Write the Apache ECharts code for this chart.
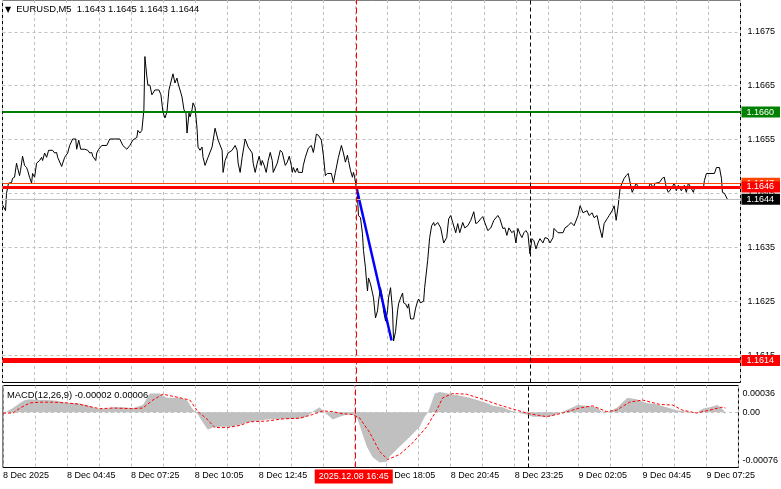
<!DOCTYPE html>
<html><head><meta charset="utf-8">
<script src="https://cdn.jsdelivr.net/npm/echarts/dist/echarts.min.js"></script>
<style>html,body{margin:0;padding:0;background:#fff}#c{width:781px;height:489px}</style>
</head><body><div id="c"></div>
<script>
const symbol = 'EURUSD,M5';
const ohlc = [1.1643, 1.1645, 1.1643, 1.1644];
const macdName = 'MACD(12,26,9)';
const macdNow = [-0.00002, 0.00006];
const priceTicks = [1.1615, 1.1625, 1.1635, 1.1645, 1.1655, 1.1665, 1.1675];
const macdLabelTicks = [-0.00076, 0, 0.00036];
const timeTicks = [0, 32, 64, 96, 128, 160, 192, 224, 256, 288, 320, 352];
const timeLabels = ['8 Dec 2025', '8 Dec 04:45', '8 Dec 07:25', '8 Dec 10:05', '8 Dec 12:45', '8 Dec 15:25',
  '8 Dec 18:05', '8 Dec 20:45', '8 Dec 23:25', '9 Dec 02:05', '9 Dec 04:45', '9 Dec 07:25'];
const eventBar = 176.5;
const eventLabel = '2025.12.08 16:45';
const markerBar = 263;
const greenLevel = 1.16601;
const orangeLevel = 1.16469;
const redLevel = 1.16462;
const closeLevel = 1.16439;
const lowLevel = 1.16140;
const blueTrend = [[176.5, 1.16461], [194, 1.16177]];

// [bar index, price]
const priceLine = [
[0,1.16429],[1.5,1.16418],[2,1.16450],[3,1.16469],[4.5,1.16470],[5,1.16478],[6,1.16480],[7,1.16506],[7.5,1.16498],[8.5,1.16483],[9,1.16493],[10,1.16519],[11,1.16502],[12,1.16498],[12.5,1.16493],[13.5,1.16480],[14.5,1.16469],[15,1.16487],[16,1.16480],[17,1.16506],[18.5,1.16511],[19.5,1.16517],[20,1.16511],[21,1.16525],[22,1.16517],[23,1.16530],[25,1.16530],[26,1.16525],[27,1.16526],[27.5,1.16517],[29.5,1.16500],[31,1.16517],[32.5,1.16525],[33.5,1.16539],[35,1.16551],[36.5,1.16551],[37,1.16532],[38,1.16549],[39,1.16532],[41,1.16532],[42.5,1.16530],[43.5,1.16525],[44.5,1.16526],[45,1.16519],[46.5,1.16511],[47,1.16525],[48,1.16532],[49.5,1.16539],[52,1.16539],[53.5,1.16551],[58.5,1.16551],[60,1.16539],[62,1.16532],[63.5,1.16539],[65,1.16549],[67,1.16554],[67.5,1.16567],[68.5,1.16562],[69.5,1.16567],[70.5,1.16605],[71,1.16704],[72,1.16666],[72.5,1.16651],[73.5,1.16651],[74.5,1.16633],[76,1.16642],[78,1.16642],[79,1.16633],[80,1.16601],[81,1.16590],[82,1.16601],[83,1.16642],[84,1.16657],[85,1.16672],[86,1.16655],[87,1.16664],[87.5,1.16655],[88.5,1.16642],[89,1.16636],[89.5,1.16629],[90.5,1.16605],[91.5,1.16599],[92,1.16562],[93,1.16599],[93.5,1.16592],[94.5,1.16605],[95,1.16618],[96,1.16610],[97,1.16571],[97.5,1.16536],[98.5,1.16530],[99.5,1.16536],[100,1.16517],[101,1.16502],[102.5,1.16517],[104.5,1.16536],[106,1.16571],[107.5,1.16549],[109.5,1.16530],[110,1.16489],[111,1.16511],[112.5,1.16525],[114.5,1.16530],[116,1.16539],[117,1.16530],[117.5,1.16506],[118.5,1.16489],[119.5,1.16517],[121,1.16551],[122.5,1.16536],[124.5,1.16525],[125,1.16506],[126,1.16489],[127,1.16506],[128,1.16519],[129,1.16502],[129.5,1.16511],[130.5,1.16502],[131.5,1.16489],[132.5,1.16511],[133.5,1.16526],[134.5,1.16511],[135,1.16489],[137,1.16506],[138.5,1.16530],[139.5,1.16526],[141,1.16502],[142,1.16508],[143,1.16519],[144,1.16502],[144.5,1.16489],[145,1.16498],[146,1.16489],[147,1.16497],[147.5,1.16489],[149.5,1.16489],[150,1.16502],[151,1.16517],[152.5,1.16534],[154,1.16539],[155,1.16526],[155.5,1.16536],[156.5,1.16560],[157.5,1.16558],[159,1.16549],[160,1.16521],[161,1.16483],[162,1.16487],[162.5,1.16489],[164,1.16487],[165,1.16470],[166,1.16489],[167.5,1.16517],[169,1.16539],[170,1.16525],[171,1.16508],[172,1.16521],[172.5,1.16511],[173.5,1.16493],[174.5,1.16480],[175,1.16489],[175.5,1.16482],[176.5,1.16459],[177,1.16446],[177.5,1.16409],[178.5,1.16405],[179.5,1.16375],[180,1.16344],[181,1.16312],[181.5,1.16288],[182,1.16269],[182.5,1.16293],[183.5,1.16282],[184.5,1.16265],[185,1.16256],[186,1.16219],[187,1.16232],[187.5,1.16250],[188.5,1.16275],[189.5,1.16256],[190,1.16232],[191,1.16213],[192,1.16232],[192.5,1.16256],[193.5,1.16275],[194.5,1.16232],[195,1.16176],[196,1.16194],[197,1.16232],[197.5,1.16245],[198.5,1.16256],[199.5,1.16265],[200,1.16247],[201,1.16245],[202,1.16237],[202.5,1.16245],[203.5,1.16217],[205,1.16217],[206,1.16237],[207,1.16250],[207.5,1.16254],[208.5,1.16247],[210,1.16250],[210.5,1.16275],[212,1.16325],[213,1.16368],[214,1.16390],[215,1.16396],[215.5,1.16390],[217,1.16396],[218.5,1.16386],[220,1.16358],[221.5,1.16368],[222.5,1.16403],[223.5,1.16409],[224.5,1.16396],[226,1.16377],[227,1.16394],[228,1.16377],[229.5,1.16396],[230.5,1.16386],[232,1.16390],[233.5,1.16400],[235,1.16416],[236,1.16394],[237,1.16396],[238.5,1.16403],[239.5,1.16407],[240.5,1.16396],[242,1.16381],[243.5,1.16386],[245,1.16400],[247,1.16409],[248,1.16403],[249.5,1.16385],[250.5,1.16386],[251.5,1.16372],[252.5,1.16386],[254,1.16377],[255,1.16381],[256,1.16358],[257,1.16385],[258,1.16375],[259,1.16368],[260,1.16377],[261,1.16381],[262,1.16375],[263,1.16338],[264,1.16366],[265,1.16362],[266,1.16347],[267,1.16358],[268,1.16366],[269.5,1.16358],[270.5,1.16368],[272,1.16366],[273,1.16358],[274.5,1.16368],[275,1.16385],[277,1.16377],[279.5,1.16377],[280.5,1.16386],[282,1.16390],[283.5,1.16396],[285,1.16390],[287,1.16409],[288,1.16427],[289.5,1.16414],[290,1.16413],[291.5,1.16418],[292.5,1.16409],[294,1.16414],[295,1.16405],[296.5,1.16409],[297.5,1.16390],[299,1.16368],[300,1.16394],[301.5,1.16403],[302.5,1.16409],[304,1.16418],[305,1.16427],[305.5,1.16414],[306,1.16400],[307,1.16427],[308,1.16461],[310,1.16478],[311,1.16483],[312,1.16487],[313,1.16469],[314,1.16452],[315,1.16461],[316,1.16469],[317,1.16461],[317.5,1.16459],[322,1.16459],[323,1.16469],[324.5,1.16461],[325.5,1.16469],[327.5,1.16470],[329,1.16478],[330,1.16480],[331,1.16461],[332,1.16452],[333.5,1.16459],[335,1.16469],[336,1.16455],[337,1.16465],[338.5,1.16455],[340,1.16465],[341,1.16452],[342,1.16469],[343.5,1.16459],[344.5,1.16452],[345,1.16459],[349.5,1.16459],[350,1.16474],[351,1.16487],[355,1.16487],[356,1.16498],[357.5,1.16498],[358.5,1.16478],[359,1.16452],[360,1.16450],[361.5,1.16439]
];

// [bar index, MACD main (histogram)]
const macdHist = [
[0,0],[2,0.00001],[5,0.00006],[8.5,0.00013],[11,0.00017],[13.5,0.00018],[17,0.00017],[22,0.00017],[27,0.00016],[32,0.00013],[37,0.00013],[42,0.00010],[47,0.00005],[52,0.00005],[55,0.00007],[60,0.00007],[65,0.00006],[70,0.00010],[73.5,0.00026],[78.5,0.00026],[82,0.00020],[88.5,0.00020],[92,0.00017],[94.5,0.00006],[96,0.00001],[97.5,-0.00003],[100,-0.00014],[102.5,-0.00024],[105,-0.00021],[108.5,-0.00020],[113.5,-0.00020],[118.5,-0.00017],[122,-0.00014],[127,-0.00012],[132,-0.00010],[140,-0.00009],[145,-0.00009],[150,-0.00008],[153.5,-0.00003],[156,0.00003],[158.5,0.00007],[160,0.00002],[163.5,-0.00006],[165,-0.00010],[168.5,-0.00006],[172,-0.00003],[175,-0.00003],[177.5,-0.00010],[180,-0.00031],[182,-0.00047],[185,-0.00062],[188.5,-0.00069],[192,-0.00068],[193.5,-0.00061],[198.5,-0.00047],[203.5,-0.00034],[208.5,-0.00020],[211,-0.00006],[212.5,-0.00001],[214.5,0.00014],[216,0.00026],[218.5,0.00028],[222.5,0.00026],[227,0.00024],[233.5,0.00020],[238.5,0.00016],[242,0.00013],[245,0.00009],[250,0.00007],[253.5,0.00003],[258.5,-0.00001],[262,-0.00003],[265,-0.00006],[270,-0.00006],[275,-0.00005],[278.5,-0.00001],[283.5,0.00005],[287.5,0.00010],[292,0.00009],[297,0.00007],[299.5,0.00001],[303.5,0.00001],[307.5,0.00007],[310,0.00014],[312.5,0.00020],[317,0.00018],[322,0.00013],[327,0.00011],[332,0.00007],[337,0.00003],[342,0.00001],[347,-0.00001],[350,0.00005],[353.5,0.00007],[357.5,0.00010],[359.5,0.00006],[361,0.00001],[361.5,-0.00002]
];

// [bar index, MACD signal]
const macdSignal = [
[0,-0.00001],[5,-0.00001],[8.5,0.00006],[13.5,0.00013],[18.5,0.00014],[25,0.00014],[32,0.00013],[38.5,0.00011],[45,0.00007],[48.5,0.00005],[55,0.00006],[65,0.00005],[70,0.00006],[75,0.00017],[80,0.00025],[87,0.00021],[93.5,0.00017],[97.5,0.00001],[102,-0.00009],[106,-0.00021],[112,-0.00021],[118.5,-0.00018],[123.5,-0.00013],[132,-0.00012],[140,-0.00009],[148.5,-0.00008],[155,-0.00003],[160,0.00002],[165,0.00001],[170,-0.00002],[175,-0.00003],[178.5,-0.00008],[183.5,-0.00028],[188.5,-0.00054],[192.5,-0.00065],[198.5,-0.00058],[205,-0.00042],[212,-0.00020],[217,0.00003],[220,0.00020],[225,0.00026],[232,0.00025],[240,0.00018],[248.5,0.00010],[257,0.00003],[263.5,-0.00002],[272,-0.00006],[280,-0.00001],[288.5,0.00006],[295,0.00009],[302,0.00001],[307,0.00003],[313.5,0.00014],[320,0.00017],[328.5,0.00011],[335,0.00010],[340,0.00003],[347,-0.00001],[353.5,0.00003],[359.5,0.00007],[361.5,0.00006]
];

const FONT = 'Liberation Sans, Arial, sans-serif';
const FS = 9;
const gridLine = { show: true, lineStyle: { color: '#c0c0c0', width: 1, type: [3, 3] } };
const tag = (bg) => ({ show: true, position: 'end', distance: 1, backgroundColor: bg, color: '#fff',
  fontSize: FS, fontFamily: FONT, padding: [1, 6, 1, 5], lineHeight: 9,
  formatter: (p) => Number(p.value).toFixed(4) });

const chart = echarts.init(document.getElementById('c'), null, { renderer: 'canvas' });
chart.setOption({
  animation: false,
  backgroundColor: '#fff',
  title: [
    { left: 5, top: 5, padding: 0,
      text: '{tri|\u25BC}  ' + symbol + '  ' + ohlc.map(v => v.toFixed(4)).join(' '),
      textStyle: { fontSize: 9.4, fontFamily: FONT, color: '#000', fontWeight: 'normal',
        rich: { tri: { fontSize: 8, fontFamily: 'DejaVu Sans', color: '#000' } } } },
    { left: 7, top: 391, padding: 0,
      text: macdName + ' ' + macdNow.map(v => v.toFixed(5)).join(' '),
      textStyle: { fontSize: 9.4, fontFamily: FONT, color: '#000', fontWeight: 'normal' } }
  ],
  grid: [
    { left: 2.5, right: 40.5, top: -1.5, height: 384, show: true, borderColor: '#000', borderWidth: 1, backgroundColor: 'transparent' },
    { left: 2.5, right: 40.5, top: 385.5, height: 82, show: true, borderColor: '#000', borderWidth: 1, backgroundColor: 'transparent' }
  ],
  xAxis: [
    { gridIndex: 0, type: 'value', min: 0, max: 368, interval: 16,
      axisLine: { show: false }, axisTick: { show: false }, axisLabel: { show: false }, splitLine: gridLine },
    { gridIndex: 1, type: 'value', min: 0, max: 368, interval: 16,
      axisLine: { show: false }, axisTick: { show: false }, splitLine: gridLine,
      axisLabel: { show: true, customValues: timeTicks, align: 'left', margin: 4, color: '#000', fontSize: FS, fontFamily: FONT,
        formatter: (v) => { const k = timeTicks.indexOf(v); return k >= 0 ? timeLabels[k] : ''; } } }
  ],
  yAxis: [
    { gridIndex: 0, type: 'value', position: 'right', min: 1.16099, max: 1.16809,
      axisLine: { show: false }, axisTick: { show: false, customValues: priceTicks },
      axisLabel: { customValues: priceTicks, margin: 7, color: '#000', fontSize: FS, fontFamily: FONT, formatter: (v) => v.toFixed(4) },
      splitLine: gridLine },
    { gridIndex: 1, type: 'value', position: 'right', min: -0.00076, max: 0.00037,
      axisLine: { show: false }, axisTick: { show: false, customValues: [0] },
      axisLabel: { customValues: macdLabelTicks, margin: 4, color: '#000', fontSize: FS, fontFamily: FONT,
        formatter: (v) => {
          if (Math.abs(v) < 1e-12) return '0.00';
          const s = v.toFixed(5);
          return v > 0 ? '{t|' + s + '}' : '{b|' + s + '}';
        },
        rich: {
          t: { padding: [14, 0, 0, 0], fontSize: FS, fontFamily: FONT, color: '#000' },
          b: { padding: [0, 0, 14, 0], fontSize: FS, fontFamily: FONT, color: '#000' }
        } },
      splitLine: { show: true, lineStyle: { color: '#c0c0c0', width: 1, type: [3, 3] } } }
  ],
  series: [
    { type: 'line', xAxisIndex: 0, yAxisIndex: 0, data: [], showSymbol: false, z: 1,
      markLine: { silent: true, symbol: ['none', 'none'], animation: false, precision: 6,
        data: [
          { yAxis: greenLevel, lineStyle: { color: '#008000', width: 2, type: 'solid' }, label: tag('#008000') },
          { yAxis: closeLevel, lineStyle: { color: '#c0c0c0', width: 1, type: 'solid' }, label: tag('#000') },
          { yAxis: orangeLevel, lineStyle: { color: '#ff4500', width: 1, type: 'solid' }, label: tag('#ff4500') },
          { yAxis: redLevel, lineStyle: { color: '#ff0000', width: 3, type: 'solid' }, label: tag('#ff0000') },
          { yAxis: lowLevel, lineStyle: { color: '#ff0000', width: 5, type: 'solid' }, label: tag('#ff0000') },
          { xAxis: eventBar, lineStyle: { color: '#ff0000', width: 1, type: [6, 3] }, label: { show: false } },
          { xAxis: markerBar, lineStyle: { color: '#000', width: 1, type: [4, 3] }, label: { show: false } }
        ] } },
    { type: 'line', xAxisIndex: 0, yAxisIndex: 0, data: priceLine, showSymbol: false, z: 3,
      lineStyle: { color: '#000', width: 1 } },
    { type: 'line', xAxisIndex: 0, yAxisIndex: 0, data: blueTrend, showSymbol: false, z: 4,
      lineStyle: { color: '#0000ff', width: 2.5 } },
    { type: 'line', xAxisIndex: 1, yAxisIndex: 1, data: macdHist, showSymbol: false, z: 2,
      lineStyle: { width: 0 }, areaStyle: { color: '#c0c0c0', opacity: 1 },
      markLine: { silent: true, symbol: ['none', 'none'], animation: false, precision: 6,
        data: [
          { xAxis: eventBar, lineStyle: { color: '#ff0000', width: 1, type: [6, 3] },
            label: { show: true, position: 'start', distance: 2, formatter: eventLabel, backgroundColor: '#ff0000', color: '#fff',
              fontSize: FS, fontFamily: FONT, padding: [3, 4, 2, 4], lineHeight: 9, offset: [-2, 0] } },
          { xAxis: markerBar, lineStyle: { color: '#000', width: 1, type: [4, 3] }, label: { show: false } }
        ] } },
    { type: 'line', xAxisIndex: 1, yAxisIndex: 1, data: macdSignal, showSymbol: false, z: 3,
      lineStyle: { color: '#ff0000', width: 1, type: [3, 2] } }
  ]
});
</script>
</body></html>
